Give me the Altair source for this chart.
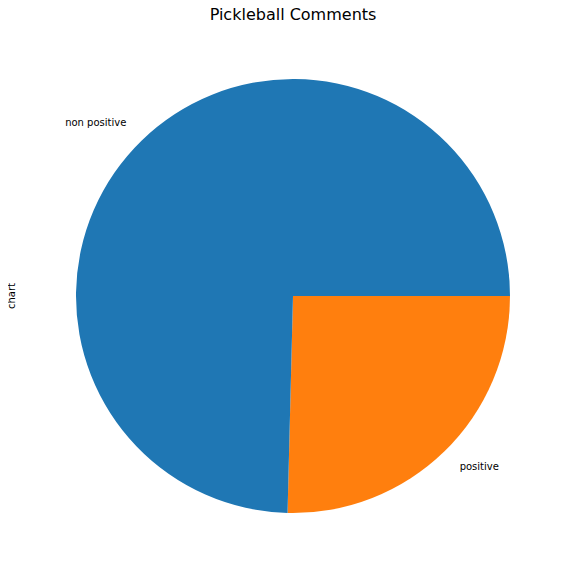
import altair as alt
import pandas as pd
import math

labels = ["positive", "non positive"]
shares = [25.4, 74.6]
colors = ["#ff7f0e", "#1f77b4"]

df = pd.DataFrame({"label": labels, "share": shares})
start = math.pi / 2
theta = alt.Theta("share:Q", stack=True, scale=alt.Scale(range=[start, start + 2 * math.pi]))
color = alt.Color("label:N", scale=alt.Scale(domain=labels, range=colors), legend=None)
cx, cy, r = 277, 280, 217

base = alt.Chart(df).encode(theta=theta, order=alt.Order("order:Q"))
base = base.transform_calculate(order="datum.label == 'positive' ? 0 : 1")

pie = base.mark_arc(radius=r).encode(color=color, x=alt.value(cx), y=alt.value(cy))

text_right = base.transform_calculate(
    t="datum.label == 'non positive' ? datum.label : ''"
).mark_text(radius=r * 1.1, align="right", baseline="middle", font="DejaVu Sans",
            fontSize=10, color="black", dy=-2).encode(text="t:N", x=alt.value(cx), y=alt.value(cy))
text_left = base.transform_calculate(
    t="datum.label == 'positive' ? datum.label : ''"
).mark_text(radius=r * 1.1, align="left", baseline="middle", font="DejaVu Sans",
            fontSize=10, color="black").encode(text="t:N", x=alt.value(cx), y=alt.value(cy))

title = alt.Chart(pd.DataFrame({"t": ["Pickleball Comments"]})).mark_text(
    font="DejaVu Sans", fontSize=16, color="black", baseline="middle"
).encode(text="t:N", x=alt.value(277), y=alt.value(-1))
ylab = alt.Chart(pd.DataFrame({"t": ["chart"]})).mark_text(
    font="DejaVu Sans", fontSize=10, color="black", angle=270, baseline="middle"
).encode(text="t:N", x=alt.value(-4), y=alt.value(280))

chart = alt.layer(pie, text_right, text_left, title, ylab).properties(
    width=547, height=551, autosize=alt.AutoSizeParams(type="none"),
    background="white", padding={"left": 8, "top": 8, "right": 0, "bottom": 0}
).configure_view(stroke=None)

chart.save("out.html", embed_options={"renderer": "svg", "actions": False})
